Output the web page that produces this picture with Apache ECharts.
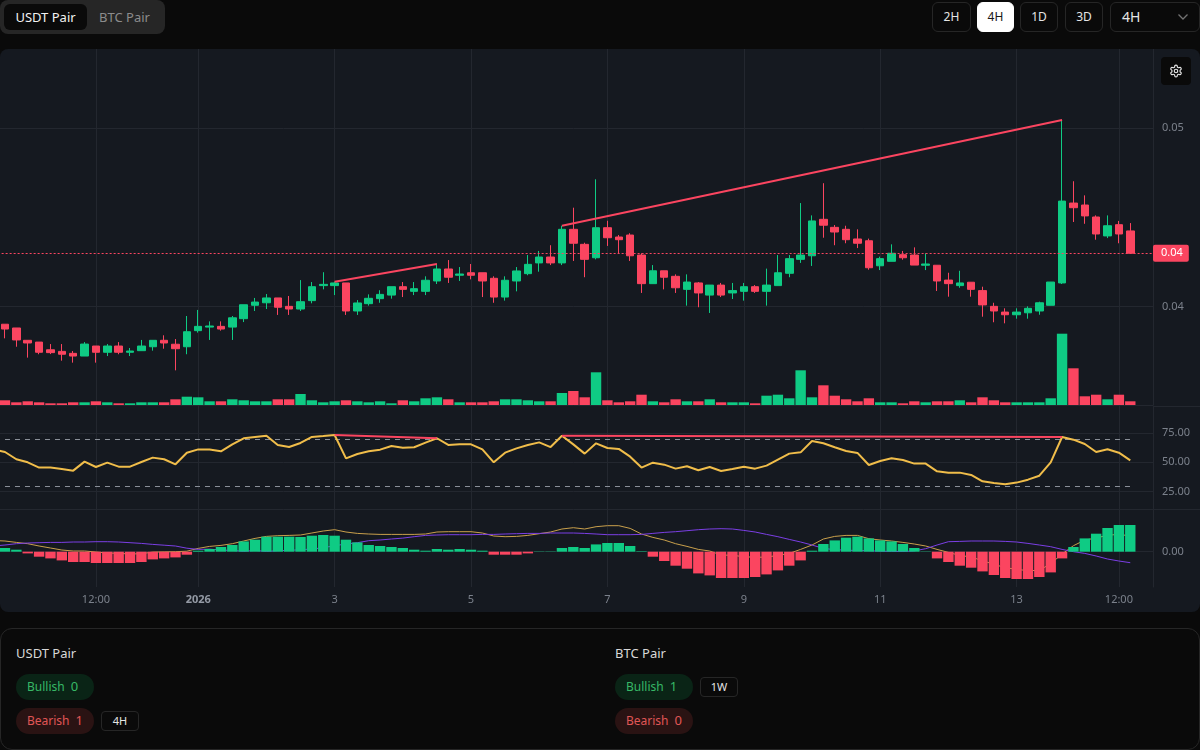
<!DOCTYPE html>
<html>
<head>
<meta charset="utf-8">
<title>USDT Pair</title>
<script src="https://cdn.jsdelivr.net/npm/echarts@6/dist/echarts.min.js"></script>
<style>
  html, body { margin: 0; padding: 0; width: 1200px; height: 750px; overflow: hidden; background: #0a0a0a; font-family: "Noto Sans", sans-serif; }
  .abs { position: absolute; box-sizing: border-box; }
  .tabs { left: 0; top: 0; width: 165px; height: 34px; background: #262626; border-radius: 8px; }
  .tab { top: 4px; height: 26px; line-height: 26px; text-align: center; font-size: 13px; border-radius: 6px; }
  .btn { top: 2px; height: 30px; line-height: 28px; text-align: center; font-size: 12px; color: #e5e5e5; border: 1px solid #262626; border-radius: 6px; }
  #chart-card { left: 0; top: 49px; width: 1200px; height: 563px; background: #151920; border-radius: 8px; overflow: hidden; }
  #chart { position: absolute; left: -20px; top: 0; width: 1220px; height: 563px; }
  .gear { left: 1161px; top: 57px; width: 30px; height: 28px; background: #0a0a0a; border-radius: 4px; }
  .panel { left: 0; top: 628px; width: 1200px; height: 122px; border: 1px solid #262626; border-radius: 12px; }
  .title { font-size: 13px; color: #d8d8d8; line-height: 18px; }
  .pill { width: 78px; height: 26px; line-height: 25px; border-radius: 13px; font-size: 12px; padding-left: 11px; white-space: nowrap; }
  .pill b { font-weight: 400; font-size: 13px; margin-left: 6px; }
  .bull { background: #0a2416; color: #37b866; }
  .bear { background: #2a1313; color: #e05656; }
  .tag { width: 38px; height: 20px; line-height: 18px; text-align: center; font-size: 11px; color: #e5e5e5; border: 1px solid #262626; border-radius: 4px; }
</style>
</head>
<body>
<div class="abs tabs"></div>
<div class="abs tab" style="left:4px;width:83px;background:#0a0a0a;color:#f2f2f2">USDT Pair</div>
<div class="abs tab" style="left:87px;width:75px;color:#8c8c8c">BTC Pair</div>
<div class="abs btn" style="left:932px;width:39px">2H</div>
<div class="abs btn" style="left:977px;width:37px;background:#fff;color:#171717;border-color:#fff">4H</div>
<div class="abs btn" style="left:1020px;width:38px">1D</div>
<div class="abs btn" style="left:1065px;width:38px">3D</div>
<div class="abs btn" style="left:1110px;width:90px;text-align:left;padding-left:11px;font-size:14px">4H
  <svg class="abs" style="left:66px;top:9px" width="12" height="10" viewBox="0 0 12 10" fill="none" stroke="#737373" stroke-width="1.3"><path d="M1.5 2.5 L6 7 L10.5 2.5"/></svg>
</div>
<div id="chart-card" class="abs"><div id="chart"></div></div>
<div class="abs gear">
  <svg class="abs" style="left:8px;top:7px" width="14" height="14" viewBox="0 0 24 24" fill="none" stroke="#e5e5e5" stroke-width="2" stroke-linecap="round" stroke-linejoin="round"><path d="M12.22 2h-.44a2 2 0 0 0-2 2v.18a2 2 0 0 1-1 1.73l-.43.25a2 2 0 0 1-2 0l-.15-.08a2 2 0 0 0-2.73.73l-.22.38a2 2 0 0 0 .73 2.73l.15.1a2 2 0 0 1 1 1.72v.51a2 2 0 0 1-1 1.74l-.15.09a2 2 0 0 0-.73 2.73l.22.38a2 2 0 0 0 2.73.73l.15-.08a2 2 0 0 1 2 0l.43.25a2 2 0 0 1 1 1.73V20a2 2 0 0 0 2 2h.44a2 2 0 0 0 2-2v-.18a2 2 0 0 1 1-1.73l.43-.25a2 2 0 0 1 2 0l.15.08a2 2 0 0 0 2.73-.73l.22-.39a2 2 0 0 0-.73-2.73l-.15-.08a2 2 0 0 1-1-1.74v-.5a2 2 0 0 1 1-1.74l.15-.09a2 2 0 0 0 .73-2.73l-.22-.38a2 2 0 0 0-2.73-.73l-.15.08a2 2 0 0 1-2 0l-.43-.25a2 2 0 0 1-1-1.73V4a2 2 0 0 0-2-2z"/><circle cx="12" cy="12" r="3"/></svg>
</div>
<div class="abs panel"></div>
<div class="abs title" style="left:16px;top:644px">USDT Pair</div>
<div class="abs pill bull" style="left:16px;top:674px">Bullish<b>0</b></div>
<div class="abs pill bear" style="left:16px;top:708px">Bearish<b>1</b></div>
<div class="abs tag" style="left:101px;top:711px">4H</div>
<div class="abs title" style="left:615px;top:644px">BTC Pair</div>
<div class="abs pill bull" style="left:615px;top:674px">Bullish<b>1</b></div>
<div class="abs tag" style="left:700px;top:677px">1W</div>
<div class="abs pill bear" style="left:615px;top:708px">Bearish<b>0</b></div>

<script>
// candle values
const openPrices = [
  0.03902,0.03881,0.03812,0.03802,0.03759,0.03750,0.03739,0.03724,0.03780,0.03745,
  0.03780,0.03745,0.03754,0.03776,0.03812,0.03790,0.03776,0.03866,0.03886,0.03890,
  0.03886,0.03933,0.04008,0.04022,0.04049,0.04002,0.03987,0.04034,0.04118,0.04118,
  0.04133,0.03976,0.04017,0.04045,0.04065,0.04112,0.04086,0.04086,0.04144,0.04211,
  0.04176,0.04190,0.04190,0.04159,0.04054,0.04144,0.04185,0.04245,0.04278,0.04245,
  0.04433,0.04349,0.04274,0.04442,0.04390,0.04401,0.04289,0.04129,0.04201,0.04170,
  0.04097,0.04133,0.04065,0.04121,0.04077,0.04086,0.04112,0.04086,0.04118,0.04187,
  0.04265,0.04285,0.04489,0.04444,0.04433,0.04379,0.04369,0.04229,0.04254,0.04291,
  0.04289,0.04232,0.04232,0.04149,0.04118,0.04137,0.04090,0.04002,0.03970,0.03955,
  0.03966,0.03976,0.04008,0.04133,0.04580,0.04569,0.04502,0.04396,0.04459,0.04424
];
const closePrices = [
  0.03875,0.03814,0.03797,0.03745,0.03743,0.03734,0.03724,0.03791,0.03745,0.03780,
  0.03745,0.03752,0.03780,0.03812,0.03797,0.03765,0.03860,0.03890,0.03892,0.03875,
  0.03938,0.04011,0.04026,0.04049,0.03997,0.03987,0.04028,0.04112,0.04125,0.04133,
  0.03976,0.04021,0.04047,0.04069,0.04112,0.04097,0.04101,0.04148,0.04211,0.04165,
  0.04183,0.04176,0.04144,0.04054,0.04148,0.04200,0.04237,0.04278,0.04245,0.04433,
  0.04355,0.04265,0.04442,0.04386,0.04375,0.04285,0.04129,0.04201,0.04165,0.04106,
  0.04138,0.04077,0.04121,0.04065,0.04090,0.04112,0.04086,0.04121,0.04190,0.04269,
  0.04289,0.04480,0.04456,0.04418,0.04375,0.04355,0.04218,0.04269,0.04299,0.04274,
  0.04233,0.04239,0.04144,0.04129,0.04133,0.04097,0.04010,0.03976,0.03955,0.03970,
  0.03991,0.04022,0.04138,0.04591,0.04554,0.04508,0.04407,0.04453,0.04407,0.04299
];
const lowPrices = [
  0.03823,0.03776,0.03715,0.03734,0.03735,0.03698,0.03687,0.03724,0.03687,0.03724,
  0.03734,0.03724,0.03754,0.03754,0.03765,0.03644,0.03734,0.03855,0.03814,0.03866,
  0.03814,0.03914,0.03976,0.03987,0.03954,0.03954,0.03976,0.04019,0.04097,0.04065,
  0.03954,0.03954,0.04006,0.04022,0.04045,0.04054,0.04065,0.04065,0.04127,0.04133,
  0.04144,0.04153,0.04054,0.04022,0.04034,0.04086,0.04176,0.04196,0.04233,0.04233,
  0.04256,0.04165,0.04265,0.04340,0.04297,0.04256,0.04077,0.04129,0.04097,0.04077,
  0.04006,0.03997,0.03965,0.04054,0.04043,0.04034,0.04077,0.04006,0.04118,0.04165,
  0.04245,0.04228,0.04386,0.04344,0.04355,0.04328,0.04207,0.04205,0.04254,0.04263,
  0.04233,0.04205,0.04088,0.04056,0.04106,0.04056,0.03944,0.03913,0.03907,0.03933,
  0.03933,0.03955,0.04008,0.04127,0.04474,0.04464,0.04375,0.04384,0.04355,0.04299
];
const highPrices = [
  0.03902,0.03881,0.03812,0.03802,0.03791,0.03791,0.03752,0.03802,0.03780,0.03791,
  0.03802,0.03769,0.03814,0.03812,0.03840,0.03819,0.03948,0.03982,0.03918,0.03918,
  0.03948,0.04011,0.04049,0.04071,0.04049,0.04060,0.04149,0.04138,0.04193,0.04140,
  0.04133,0.04037,0.04069,0.04092,0.04112,0.04138,0.04138,0.04170,0.04239,0.04261,
  0.04222,0.04239,0.04190,0.04170,0.04170,0.04222,0.04289,0.04312,0.04344,0.04453,
  0.04554,0.04358,0.04713,0.04481,0.04401,0.04411,0.04299,0.04233,0.04201,0.04181,
  0.04181,0.04138,0.04121,0.04133,0.04133,0.04133,0.04121,0.04213,0.04289,0.04289,
  0.04580,0.04511,0.04691,0.04457,0.04453,0.04433,0.04381,0.04280,0.04349,0.04312,
  0.04332,0.04299,0.04232,0.04190,0.04201,0.04137,0.04112,0.04022,0.03991,0.03991,
  0.04002,0.04028,0.04138,0.05045,0.04702,0.04623,0.04511,0.04511,0.04480,0.04468
];
const volumes = [
  4.7,2.7,3.7,2.7,1.7,1.7,2.7,2.7,3.7,2.7,
  1.7,1.7,2.7,2.7,2.7,5.7,8.3,7.7,3.7,3.7,
  5.7,4.7,3.7,3.7,5.7,5.7,11,4.7,2.7,3.7,
  4.7,3.7,2.7,3.7,1.7,4.7,3.7,6.7,7.7,5.7,
  2.7,2.7,2.7,3.7,5.7,5.7,4.7,3.7,3.7,12,
  14,7.7,32.7,4.7,2.7,3.7,10.3,3.7,2.7,5.7,
  3.7,3.7,5.7,2.7,2.7,2.7,1.7,9.3,10.3,6.7,
  34.7,7.7,19.7,9.3,5.7,3.7,6.7,2.7,2.7,1.7,
  3.7,2.7,3.7,3.7,4.7,2.7,7.7,4.7,2.7,2.7,
  2.7,2.7,6.7,71.3,36.7,8.7,10.3,5.7,10.3,3.7
];
// the lines run in from a candle just off the left edge
const rsiValues = [
  61,58.8,52.6,50,45.5,45.5,44.3,42.9,50.6,46,49.7,
  46.3,46.3,50.3,54,52.6,48.3,58.2,61,61,59.4,
  65.3,70.5,71.6,72.7,64.8,63,66.5,71.6,72.4,73.3,
  53.4,57.1,59.4,60.8,63.9,62.5,62.8,66.8,70.5,64.8,
  65.3,65.3,61,50,58.2,61.9,64.8,67,63,72.7,
  65.3,57.4,66.2,62.2,61.4,54.8,45.5,49.7,48,44.6,
  46.6,43.2,46,42.6,44.3,46.3,44.6,47.2,52.3,57.4,
  58.5,68.2,66.2,62.8,59.7,58,47.7,51.1,53.4,52,
  48.9,48.9,42.3,41.2,41.2,39.2,33.8,32.4,31.3,32.7,
  35.2,38.6,50,71.6,69.3,65.6,58.8,61.1,58.2,51.7
];
// MACD pane values, in 1e-5 price units
const macdHist = [
  3.7,2,-1.7,-5,-6.7,-8.7,-10.3,-10.3,-11.3,-11.3,
  -11.3,-11.3,-10.3,-7.7,-6.7,-5.7,-3,1,2.7,4.7,
  6.7,10.3,12,15,15,15,14.7,16,16.7,16,
  12,9.3,6.7,5.7,4.7,3.7,2,1,2.7,2,
  2.7,2,1,-3,-3,-3,-1.7,0.3,0.3,3.7,
  4.7,3.7,7.3,8.7,8.7,5.7,0.5,-5,-9.3,-14,
  -17,-21.7,-23.7,-26.3,-26.3,-26.3,-25.3,-22.7,-18.7,-14,
  -8.7,1,7.7,11.3,14,15,13.3,11.3,10.3,7.7,
  3.7,0.3,-6.7,-10.3,-14,-16,-19.7,-23.3,-26.3,-27.3,
  -27.3,-25.3,-20.7,-6.7,4.7,13.3,18,23.7,26.7,26.7
];
const macdLine = [
  11.2,10.7,9.3,8,5.7,3.7,1.7,0.7,0.7,-0.3,-1.3,
  -1.6,-2.3,-2,-0.4,-0.2,0,0.5,3.3,5.3,6.3,
  8,10.7,13.3,15.3,16,16.3,16.7,18.7,20.7,22,
  19.7,18.3,17.7,17.3,17.3,17.3,17.3,17.7,19.7,20,
  20,20,18.7,15.7,15,15.3,16.3,18,19.7,22.7,
  24,22.7,25,26,26,23.3,17.7,14.3,11.7,8,
  5.3,2.3,0.7,-3.3,-3.6,-5,-5.6,-5.4,-3.7,-1.7,
  2.3,6.7,12.7,15.3,16.3,16.3,13,11.7,10.7,9.3,
  7.7,5.7,2.3,-0.7,-3.7,-5.3,-9,-12.6,-16,-17.6,
  -19,-18.6,-12,-2.3,6,11.6,13.7,16.4,17.4,15.7
];
const macdSignal = [
  5.7,6.7,8,8.7,9,9.3,9.3,9.7,9.7,10,10,
  9.7,9,8.3,7.3,6.5,5.7,3.5,2.3,2.6,1.6,
  1.3,0.4,1.3,0.3,1,1.3,2,2.7,4,6,
  7.7,9,11,11.7,12.7,13.6,15,16.3,16.7,17,
  17,17,17.3,17.3,17.7,18,18.3,18.3,18.7,18.7,
  18.7,18.3,17.7,17,17,17,17.3,18.3,19.3,20,
  21,22,22.7,23,22.7,21.3,19.7,17.3,15,12.3,
  9.7,6.7,3.3,2,1.5,1.2,1,0.5,0.3,0.2,
  0.8,3,6.7,10,10.3,10.7,10.7,10.7,10.3,9.7,
  8.3,6.7,5,2.3,0,-1.7,-4.3,-7.3,-9.3,-11
];
const tickIndexes = [8, 17, 29, 41, 53, 65, 77, 89, 98];
const tickLabels = ['12:00', '2026', '3', '5', '7', '9', '11', '13', '12:00'];
const priceTicks = [0.04, 0.05];
const rsiTicks = [25, 50, 75];
const rsiBands = [70, 30];
const macdTicks = [0];
// divergence lines: [candle index, value] pairs
const priceDivergences = [
  [[29, 0.04140], [38, 0.04239]],
  [[49, 0.04453], [93, 0.05045]]
];
const rsiDivergences = [
  [[29, 73.3], [38, 70.5]],
  [[49, 72.7], [93, 71.6]]
];

const UP = '#0fcb84';
const DOWN = '#fb4560';
const GRID = '#23272f';
const TEXT = '#7b818b';
const FONT = '"Noto Sans", sans-serif';

// one blank slot before the first candle and two after the last
const slots = [];
for (let i = 0; i < 103; i++) {
  slots.push(String(i));
}
const tickSlot = (i) => tickIndexes.indexOf(i - 1) >= 0;
const pad = (list) => ['-'].concat(list);

const candleData = [['-', '-', '-', '-']].concat(openPrices.map((open, i) => [open, closePrices[i], lowPrices[i], highPrices[i]]));
const barColor = (up) => ({ color: up ? UP : DOWN });
const volumeData = pad(volumes.map((value, i) => ({
  value,
  itemStyle: barColor(closePrices[i] >= openPrices[i])
})));
const histData = pad(macdHist.map((value) => ({ value, itemStyle: barColor(value >= 0) })));
const shift = (points) => points.map(([i, value]) => [i + 1, value]);

const makeXAxis = (gridIndex, showLabel) => ({
  type: 'category',
  gridIndex,
  data: slots,
  boundaryGap: false,
  axisTick: { show: false },
  axisLine: { show: true, lineStyle: { color: GRID } },
  splitLine: { show: true, interval: (i) => tickSlot(i), lineStyle: { color: GRID } },
  axisLabel: {
    show: showLabel,
    interval: (i) => tickSlot(i),
    margin: 7,
    fontFamily: FONT,
    fontSize: 11,
    color: TEXT,
    formatter: (value, index) => {
      const label = tickLabels[tickIndexes.indexOf(index - 1)];
      return label === '2026' ? '{year|2026}' : label;
    },
    rich: { year: { fontFamily: FONT, fontSize: 11, fontWeight: 700, color: '#949aa5' } }
  }
});

const makeYAxis = (gridIndex, min, max, ticks, digits) => ({
  type: 'value',
  gridIndex,
  position: 'right',
  min,
  max,
  axisLine: { show: true, lineStyle: { color: GRID } },
  axisTick: { show: false, customValues: ticks },
  splitLine: { show: true, lineStyle: { color: GRID } },
  axisLabel: {
    customValues: ticks,
    margin: 9,
    fontFamily: FONT,
    fontSize: 11,
    color: TEXT,
    formatter: (value) => value.toFixed(digits)
  }
});

const divergenceSeries = (points, xAxisIndex, yAxisIndex) => ({
  type: 'line',
  xAxisIndex,
  yAxisIndex,
  data: shift(points),
  showSymbol: false,
  silent: true,
  z: 6,
  lineStyle: { color: DOWN, width: 2 }
});

const bandLines = rsiBands.map((band) => [{ coord: [1, band] }, { coord: [100, band] }]);

const series = [
  {
    type: 'bar',
    xAxisIndex: 0,
    yAxisIndex: 1,
    data: volumeData,
    barWidth: 10.4,
    z: 1
  },
  {
    type: 'candlestick',
    xAxisIndex: 0,
    yAxisIndex: 0,
    data: candleData,
    barWidth: 8,
    z: 3,
    itemStyle: { color: UP, color0: DOWN, borderColor: UP, borderColor0: DOWN, borderWidth: 1 },
    markLine: {
      silent: true,
      symbol: 'none',
      precision: 5,
      lineStyle: { color: DOWN, type: [2, 2], width: 1 },
      label: {
        position: 'end',
        distance: 0,
        formatter: (p) => p.value.toFixed(2),
        fontFamily: FONT,
        fontSize: 11,
        color: '#fff',
        backgroundColor: DOWN,
        borderRadius: 2,
        padding: [3, 6, 3, 8]
      },
      data: [{ yAxis: closePrices[closePrices.length - 1] }]
    }
  },
  {
    type: 'line',
    xAxisIndex: 1,
    yAxisIndex: 2,
    data: rsiValues,
    showSymbol: false,
    z: 5,
    lineStyle: { color: '#f0bd4a', width: 2 },
    markLine: {
      silent: true,
      symbol: 'none',
      label: { show: false },
      lineStyle: { color: '#8a8f98', type: [5, 5], width: 1 },
      data: bandLines
    }
  },
  {
    type: 'line',
    xAxisIndex: 2,
    yAxisIndex: 3,
    data: macdLine,
    showSymbol: false,
    z: 2,
    lineStyle: { color: '#c9a04c', width: 1 }
  },
  {
    type: 'line',
    xAxisIndex: 2,
    yAxisIndex: 3,
    data: macdSignal,
    showSymbol: false,
    z: 2,
    lineStyle: { color: '#7b3fe4', width: 1 }
  },
  {
    type: 'bar',
    xAxisIndex: 2,
    yAxisIndex: 3,
    data: histData,
    barWidth: 10.4,
    z: 3
  }
];
priceDivergences.forEach((points) => series.push(divergenceSeries(points, 0, 0)));
rsiDivergences.forEach((points) => series.push(divergenceSeries(points, 1, 2)));

const chart = echarts.init(document.getElementById('chart'));
chart.setOption({
  animation: false,
  backgroundColor: 'transparent',
  // the chart div starts 20px left of the card, so the blank first slot sits off the edge
  grid: [
    { left: 13.63, right: 47, top: 0, height: 356 },
    { left: 13.63, right: 47, top: 357, height: 103 },
    { left: 13.63, right: 47, top: 460, height: 78 }
  ],
  xAxis: [makeXAxis(0, false), makeXAxis(1, false), makeXAxis(2, true)],
  yAxis: [
    makeYAxis(0, 0.03450, 0.05442, priceTicks, 2),
    { type: 'value', gridIndex: 0, show: false, min: 0, max: 356 },
    makeYAxis(1, 10.2, 98, rsiTicks, 2),
    makeYAxis(2, -35.3, 42.7, macdTicks, 2)
  ],
  graphic: [357, 460].map((y) => ({
    type: 'line',
    silent: true,
    z: 0,
    shape: { x1: 1173, y1: y + 0.5, x2: 1220, y2: y + 0.5 },
    style: { stroke: GRID, lineWidth: 1 }
  })),
  series
});
</script>
</body>
</html>
